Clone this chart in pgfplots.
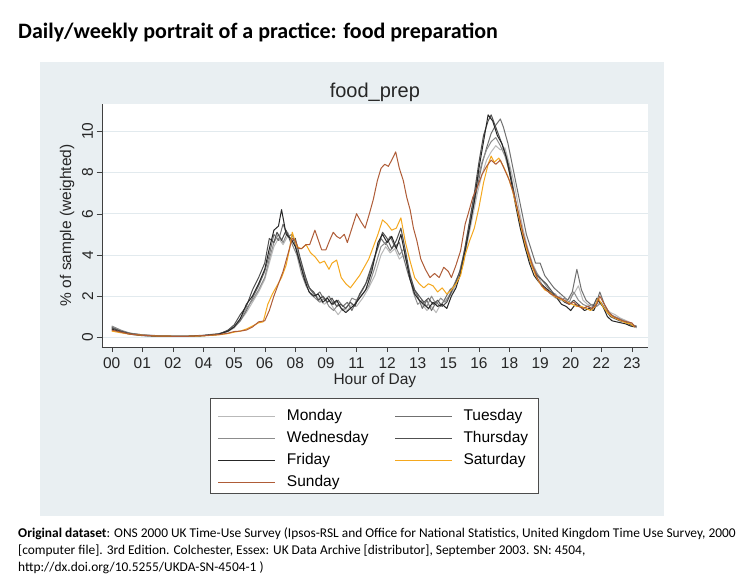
\documentclass[border=0pt]{standalone}
\usepackage{fontspec}
\usepackage{pgfplots}
\pgfplotsset{compat=1.18}
\setmainfont{Liberation Sans}
\newfontfamily\carlito{Carlito}
\definecolor{bgc}{RGB}{233,239,242}
\definecolor{gridc}{RGB}{226,234,238}
\definecolor{monc}{RGB}{185,185,185}
\definecolor{tuec}{RGB}{112,112,112}
\definecolor{wedc}{RGB}{140,140,140}
\definecolor{thuc}{RGB}{80,80,80}
\definecolor{fric}{RGB}{38,38,38}
\definecolor{satc}{RGB}{245,168,30}
\definecolor{sunc}{RGB}{175,92,55}
\begin{document}
\begin{tikzpicture}[x=1pt,y=1pt]
\path[fill=white,use as bounding box] (0,0) rectangle (754,582);
\fill[bgc] (40,66) rectangle (664,520);
\draw[black!70, fill=white, line width=0.8pt] (210,89) rectangle (538,184);
\node[anchor=west,inner sep=0,font=\carlito\bfseries\fontsize{22}{26}\selectfont] at (18,550) {Daily/weekly portrait of a practice: food preparation};
\node[anchor=north west,align=left,inner sep=0,font=\carlito\fontsize{13.4}{17}\selectfont] at (18,55) {\textbf{Original dataset}: ONS 2000 UK Time-Use Survey (Ipsos-RSL and Office for National Statistics, United Kingdom Time Use Survey, 2000\\ {[computer file]}. 3rd Edition. Colchester, Essex: UK Data Archive [distributor], September 2003. SN: 4504,\\ http://dx.doi.org/10.5255/UKDA-SN-4504-1 )};
\begin{axis}[
  at={(101.7pt,235pt)}, anchor=south west,
  scale only axis, width=546.3pt, height=243.5pt,
  xmin=-0.327, xmax=17.525, ymin=-0.471, ymax=11.35,
  axis x line*=bottom, axis y line*=left,
  x axis line style={-, draw=black!75}, y axis line style={-, draw=black!75},
  axis background/.style={fill=white},
  tick align=outside, major tick length=5pt,
  tick style={black!75},
  xtick={0,...,17},
  xticklabels={00,01,02,04,05,06,08,09,11,12,13,15,16,18,19,20,22,23},
  ytick={0,2,4,6,8,10},
  ymajorgrids, grid style={gridc, line width=0.8pt},
  /pgf/number format/assume math mode=true,
  tick label style={font=\fontsize{15.5}{17}\selectfont, text=black!85},
  xticklabel style={anchor=center, yshift=-11pt},
  yticklabel style={rotate=90, anchor=south, inner sep=2pt, yshift=1.5pt},
  xlabel={Hour of Day},
  xlabel style={at={(axis description cs:0.5,-0.1396)}, anchor=center, font=\fontsize{15.5}{17}\selectfont, text=black!85},
  ylabel={\% of sample (weighted)},
  ylabel style={at={(axis description cs:-0.0635,0.5)}, anchor=center, font=\fontsize{15.5}{17}\selectfont, text=black!85},
  title={food\_prep},
  title style={at={(axis description cs:0.5,1.022)}, anchor=center, yshift=0pt, font=\fontsize{20}{22}\selectfont, text=black!85},
  legend columns=2,
  legend style={at={(0.4985,-0.221)}, anchor=north, draw=none, fill=none,
    font=\fontsize{15.5}{17}\selectfont, row sep=3.5pt, inner xsep=8pt, inner ysep=6pt,
    nodes={inner sep=2pt, text height=11pt, text depth=3.5pt},
    /tikz/every odd column/.append style={column sep=9pt},
    /tikz/every even column/.append style={column sep=24pt}},
  legend cell align=left,
  legend image code/.code={\draw[#1, line width=1pt] (0pt,0pt) -- (57pt,0pt);},
  every axis plot/.append style={line width=1pt, line join=round},
]
\addplot[color=monc] coordinates {(0,0.5)(0.3,0.3)(0.6,0.18)(1,0.1)(1.5,0.06)(2,0.05)(2.5,0.05)(3,0.08)(3.5,0.14)(3.8,0.28)(4,0.45)(4.2,0.8)(4.4,1.2)(4.6,1.7)(4.8,2.2)(5.0,2.8)(5.15,3.6)(5.3,4.4)(5.45,4.8)(5.6,4.5)(5.75,4.9)(5.9,4.7)(6.05,4.3)(6.2,3.5)(6.35,2.8)(6.5,2.3)(6.65,2.1)(6.8,1.8)(6.95,1.6)(7.1,1.8)(7.25,1.4)(7.4,1.1)(7.55,1.4)(7.7,1.3)(7.85,1.6)(8.0,1.5)(8.2,1.9)(8.4,2.4)(8.6,3.0)(8.8,4.0)(8.95,4.4)(9.1,4.1)(9.25,4.3)(9.4,3.8)(9.55,4.0)(9.7,3.4)(9.85,2.5)(10.0,1.9)(10.15,1.6)(10.3,1.3)(10.45,1.5)(10.6,1.2)(10.75,1.6)(10.9,1.8)(11.05,2.0)(11.2,2.4)(11.35,2.9)(11.5,3.6)(11.65,4.8)(11.8,5.9)(11.95,7.0)(12.1,7.9)(12.25,8.6)(12.4,9.0)(12.55,9.3)(12.7,9.1)(12.85,9.2)(13.0,8.4)(13.15,7.5)(13.3,6.3)(13.45,5.2)(13.6,4.3)(13.75,3.6)(13.9,3.1)(14.05,2.6)(14.2,2.3)(14.35,2.1)(14.5,1.9)(14.65,2.0)(14.8,1.7)(14.95,1.9)(15.1,2.1)(15.25,2.5)(15.4,1.8)(15.55,1.6)(15.7,1.5)(15.85,1.7)(16.0,1.6)(16.15,1.4)(16.3,1.2)(16.45,1.1)(16.6,0.95)(16.75,0.85)(16.9,0.75)(17.05,0.6)(17.15,0.45)};
\addlegendentry{Monday}
\addplot[color=tuec] coordinates {(0,0.5)(0.3,0.3)(0.6,0.2)(1,0.12)(1.5,0.08)(2,0.06)(2.5,0.06)(3,0.1)(3.5,0.18)(3.8,0.3)(4,0.5)(4.2,0.8)(4.4,1.3)(4.6,1.9)(4.8,2.5)(5.0,3.2)(5.15,4.0)(5.3,5.0)(5.45,4.7)(5.6,5.5)(5.75,4.9)(5.9,5.0)(6.05,4.2)(6.2,3.4)(6.35,2.7)(6.5,2.3)(6.65,2.0)(6.8,2.2)(6.95,1.8)(7.1,2.0)(7.25,1.6)(7.4,1.8)(7.55,1.5)(7.7,1.7)(7.85,1.3)(8.0,1.8)(8.2,2.3)(8.4,2.9)(8.6,3.9)(8.8,4.8)(8.95,4.5)(9.1,4.9)(9.25,4.4)(9.4,4.6)(9.55,3.8)(9.7,3.0)(9.85,2.4)(10.0,2.0)(10.15,1.4)(10.3,1.8)(10.45,1.3)(10.6,1.7)(10.75,1.5)(10.9,1.9)(11.05,2.3)(11.2,2.5)(11.35,2.9)(11.5,3.8)(11.65,5.0)(11.8,6.2)(11.95,7.3)(12.1,8.4)(12.25,9.2)(12.4,9.9)(12.55,10.3)(12.7,10.6)(12.8,10.2)(12.95,9.4)(13.1,8.3)(13.25,7.2)(13.4,6.1)(13.55,5.0)(13.7,4.3)(13.85,3.6)(14.0,3.6)(14.15,3.0)(14.3,2.7)(14.45,2.4)(14.6,2.2)(14.75,2.0)(14.9,1.8)(15.05,2.2)(15.2,3.3)(15.35,2.3)(15.5,1.8)(15.65,1.6)(15.8,1.5)(15.95,2.2)(16.1,1.6)(16.25,1.2)(16.4,1.0)(16.55,0.9)(16.7,0.8)(16.85,0.7)(17.0,0.6)(17.15,0.55)};
\addlegendentry{Tuesday}
\addplot[color=wedc] coordinates {(0,0.55)(0.3,0.35)(0.6,0.2)(1,0.12)(1.5,0.07)(2,0.06)(2.5,0.06)(3,0.09)(3.5,0.16)(3.8,0.3)(4,0.5)(4.2,0.9)(4.4,1.4)(4.6,1.8)(4.8,2.3)(5.0,2.9)(5.15,3.8)(5.3,4.6)(5.45,5.0)(5.6,4.6)(5.75,5.1)(5.9,4.5)(6.05,4.0)(6.2,3.1)(6.35,2.5)(6.5,2.1)(6.65,1.9)(6.8,1.7)(6.95,1.9)(7.1,1.5)(7.25,1.3)(7.4,1.6)(7.55,1.3)(7.7,1.5)(7.85,1.9)(8.0,1.8)(8.2,2.1)(8.4,2.5)(8.6,3.4)(8.8,4.4)(8.95,4.6)(9.1,4.2)(9.25,4.5)(9.4,4.0)(9.55,4.3)(9.7,3.2)(9.85,2.2)(10.0,1.6)(10.15,1.8)(10.3,1.5)(10.45,2.0)(10.6,1.6)(10.75,1.9)(10.9,1.7)(11.05,2.1)(11.2,2.6)(11.35,3.1)(11.5,4.0)(11.65,5.2)(11.8,6.4)(11.95,7.6)(12.1,8.5)(12.25,9.1)(12.4,9.5)(12.55,9.7)(12.7,9.3)(12.85,8.8)(13.0,8.0)(13.15,7.0)(13.3,5.8)(13.45,4.9)(13.6,4.2)(13.75,3.5)(13.9,3.1)(14.05,2.8)(14.2,2.5)(14.35,2.2)(14.5,2.1)(14.65,1.8)(14.8,1.9)(14.95,1.7)(15.1,2.2)(15.25,1.8)(15.4,1.6)(15.55,1.5)(15.7,1.6)(15.85,1.5)(16.0,1.7)(16.15,1.3)(16.3,1.1)(16.45,1.0)(16.6,0.9)(16.75,0.8)(16.9,0.7)(17.05,0.6)(17.15,0.5)};
\addlegendentry{Wednesday}
\addplot[color=thuc] coordinates {(0,0.45)(0.3,0.3)(0.6,0.18)(1,0.1)(1.5,0.06)(2,0.05)(2.5,0.05)(3,0.08)(3.5,0.15)(3.8,0.35)(4,0.6)(4.2,1.1)(4.4,1.5)(4.6,2.3)(4.8,2.9)(5.0,3.6)(5.15,4.8)(5.3,4.6)(5.4,5.1)(5.55,4.7)(5.7,5.2)(5.85,4.6)(6.0,4.8)(6.15,3.9)(6.3,3.1)(6.45,2.4)(6.6,2.2)(6.75,1.8)(6.9,2.0)(7.05,1.7)(7.2,1.9)(7.35,1.5)(7.5,1.6)(7.65,1.4)(7.8,1.7)(7.95,1.5)(8.1,2.1)(8.3,2.6)(8.5,3.5)(8.7,4.4)(8.85,5.1)(9.0,4.8)(9.15,4.3)(9.3,4.7)(9.45,5.3)(9.6,4.2)(9.75,3.0)(9.9,2.3)(10.05,2.0)(10.2,1.7)(10.35,1.9)(10.5,1.6)(10.65,1.8)(10.8,1.5)(10.95,1.7)(11.1,2.2)(11.25,2.7)(11.4,3.3)(11.55,4.4)(11.7,5.7)(11.85,7.0)(12.0,8.5)(12.15,9.8)(12.3,10.5)(12.4,10.8)(12.55,10.2)(12.7,9.6)(12.85,9.0)(13.0,8.2)(13.15,7.0)(13.3,5.9)(13.45,4.8)(13.6,4.0)(13.75,3.4)(13.9,3.0)(14.05,2.8)(14.2,2.6)(14.35,2.3)(14.5,2.0)(14.65,1.9)(14.8,1.7)(14.95,1.6)(15.1,1.8)(15.25,1.6)(15.4,1.4)(15.55,1.5)(15.7,1.4)(15.85,1.9)(16.0,1.6)(16.15,1.3)(16.3,1.0)(16.45,0.9)(16.6,0.8)(16.75,0.75)(16.9,0.65)(17.05,0.55)(17.15,0.5)};
\addlegendentry{Thursday}
\addplot[color=fric] coordinates {(0,0.4)(0.3,0.25)(0.6,0.15)(1,0.08)(1.5,0.05)(2,0.04)(2.5,0.05)(3,0.08)(3.5,0.15)(3.8,0.3)(4,0.5)(4.2,0.9)(4.4,1.6)(4.6,2.0)(4.8,2.6)(5.0,3.3)(5.15,4.3)(5.3,5.2)(5.45,5.4)(5.55,6.2)(5.7,5.0)(5.85,4.8)(6.0,4.4)(6.15,3.6)(6.3,2.8)(6.45,2.2)(6.6,2.0)(6.75,2.1)(6.9,1.7)(7.05,1.9)(7.2,1.6)(7.35,1.8)(7.5,1.4)(7.65,1.2)(7.8,1.4)(7.95,1.6)(8.1,1.9)(8.3,2.3)(8.5,3.2)(8.7,4.6)(8.85,5.0)(9.0,4.6)(9.15,4.9)(9.3,4.3)(9.45,5.0)(9.6,3.9)(9.75,2.8)(9.9,2.1)(10.05,1.8)(10.2,1.6)(10.35,1.4)(10.5,1.7)(10.65,1.5)(10.8,1.6)(10.95,1.4)(11.1,2.0)(11.25,2.4)(11.4,3.1)(11.55,4.2)(11.7,5.4)(11.85,6.6)(12.0,8.2)(12.15,9.5)(12.3,10.8)(12.45,10.5)(12.6,9.8)(12.75,9.4)(12.9,8.7)(13.05,7.6)(13.2,6.4)(13.35,5.3)(13.5,4.4)(13.65,3.6)(13.8,3.0)(13.95,2.7)(14.1,2.5)(14.25,2.3)(14.4,2.1)(14.55,1.9)(14.7,1.6)(14.85,1.5)(15.0,1.3)(15.15,1.6)(15.3,1.5)(15.45,1.3)(15.6,1.4)(15.75,1.3)(15.9,1.8)(16.05,1.5)(16.2,1.0)(16.35,0.8)(16.5,0.75)(16.65,0.7)(16.8,0.65)(16.95,0.55)(17.1,0.5)};
\addlegendentry{Friday}
\addplot[color=satc] coordinates {(0,0.3)(0.3,0.22)(0.6,0.15)(1,0.1)(1.5,0.06)(2,0.05)(2.5,0.05)(3,0.07)(3.5,0.12)(3.8,0.18)(4,0.25)(4.2,0.3)(4.4,0.4)(4.6,0.55)(4.8,0.7)(4.95,0.75)(5.1,1.6)(5.25,2.1)(5.4,2.5)(5.55,2.9)(5.7,3.5)(5.8,4.2)(5.9,5.1)(6.05,4.4)(6.2,4.3)(6.35,4.5)(6.5,4.1)(6.65,3.9)(6.8,3.6)(6.95,3.7)(7.1,3.3)(7.2,3.6)(7.35,3.75)(7.5,2.9)(7.65,2.6)(7.8,2.4)(7.95,2.7)(8.1,3.0)(8.25,3.4)(8.4,3.8)(8.55,4.4)(8.7,5.0)(8.85,5.7)(9.0,5.5)(9.15,5.2)(9.3,5.3)(9.45,5.8)(9.6,4.6)(9.75,3.7)(9.9,2.9)(10.05,2.6)(10.2,2.4)(10.35,2.6)(10.5,2.5)(10.65,2.2)(10.8,2.4)(10.95,2.1)(11.1,2.3)(11.25,2.6)(11.4,3.0)(11.55,4.0)(11.7,4.7)(11.85,5.3)(12.0,6.3)(12.15,7.5)(12.3,8.4)(12.4,8.8)(12.5,8.5)(12.65,8.7)(12.8,8.3)(12.95,7.8)(13.1,7.1)(13.25,6.2)(13.4,5.2)(13.55,4.3)(13.7,3.6)(13.85,3.0)(14.0,2.6)(14.15,2.3)(14.3,2.2)(14.45,2.0)(14.6,1.9)(14.75,1.8)(14.9,1.7)(15.05,1.6)(15.2,1.5)(15.35,1.5)(15.5,1.4)(15.65,1.3)(15.8,1.5)(15.9,1.9)(16.05,1.5)(16.2,1.2)(16.35,1.0)(16.5,0.9)(16.65,0.8)(16.8,0.7)(16.95,0.65)(17.1,0.5)};
\addlegendentry{Saturday}
\addplot[color=sunc] coordinates {(0,0.35)(0.3,0.25)(0.6,0.15)(1,0.1)(1.5,0.06)(2,0.05)(2.5,0.05)(3,0.08)(3.5,0.13)(3.8,0.2)(4,0.28)(4.2,0.3)(4.4,0.35)(4.6,0.5)(4.8,0.75)(5.0,0.8)(5.15,1.3)(5.3,2.0)(5.45,2.6)(5.6,3.2)(5.75,4.0)(5.9,4.8)(6.0,4.7)(6.1,4.3)(6.2,4.3)(6.35,4.5)(6.47,4.5)(6.64,5.2)(6.86,4.25)(7.0,4.25)(7.12,4.7)(7.24,5.1)(7.35,4.9)(7.46,4.8)(7.6,5.0)(7.7,4.6)(7.85,5.3)(8.0,6.0)(8.15,5.6)(8.28,5.3)(8.42,6.0)(8.55,6.7)(8.68,7.6)(8.8,8.2)(8.92,8.4)(9.04,8.3)(9.15,8.6)(9.28,9.0)(9.4,8.2)(9.53,7.6)(9.64,6.8)(9.75,6.2)(9.86,5.3)(9.97,4.7)(10.1,3.8)(10.25,3.3)(10.4,2.9)(10.55,3.1)(10.7,2.9)(10.85,3.4)(11.0,3.2)(11.1,2.9)(11.25,3.5)(11.4,4.2)(11.55,5.5)(11.65,6.0)(11.8,6.8)(11.95,7.3)(12.1,7.9)(12.25,8.3)(12.4,8.6)(12.55,8.4)(12.7,8.6)(12.85,8.1)(13.0,7.6)(13.15,6.9)(13.3,6.0)(13.45,5.0)(13.6,4.2)(13.75,3.5)(13.9,2.9)(14.05,2.5)(14.2,2.3)(14.35,2.1)(14.5,2.0)(14.65,1.9)(14.8,1.8)(14.95,1.6)(15.1,1.7)(15.25,1.5)(15.4,1.4)(15.55,1.5)(15.7,1.4)(15.85,1.6)(15.95,2.0)(16.1,1.6)(16.25,1.2)(16.4,1.0)(16.55,0.9)(16.7,0.8)(16.85,0.75)(17.0,0.7)(17.1,0.5)};
\addlegendentry{Sunday}
\end{axis}
\end{tikzpicture}
\end{document}
